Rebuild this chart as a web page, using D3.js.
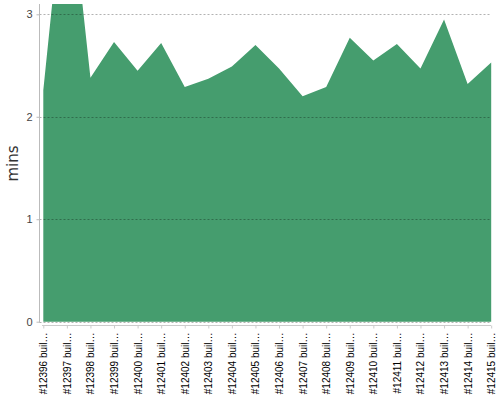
<!DOCTYPE html>
<html>
<head>
<meta charset="utf-8">
<script src="https://cdn.jsdelivr.net/npm/d3@7"></script>
<style>
html,body{margin:0;padding:0;background:#fff;}
svg{display:block;font-family:"DejaVu Sans",sans-serif;}
</style>
</head>
<body>
<svg id="chart" width="500" height="400"></svg>
<script>
const categories = ["#12396 buil…","#12397 buil…","#12398 buil…","#12399 buil…","#12400 buil…","#12401 buil…","#12402 buil…","#12403 buil…","#12404 buil…","#12405 buil…","#12406 buil…","#12407 buil…","#12408 buil…","#12409 buil…","#12410 buil…","#12411 buil…","#12412 buil…","#12413 buil…","#12414 buil…","#12415 buil…"];
const durations = [2.26,4.5,2.38,2.73,2.45,2.72,2.29,2.37,2.49,2.70,2.47,2.20,2.29,2.77,2.55,2.71,2.47,2.95,2.32,2.53];
const yTicks = [0,1,2,3];
const yLabel = "mins";

const svg = d3.select("#chart");
const plotTop = 4, plotBottom = 321.7, plotLeft = 39.5, plotRight = 491;
const x = d3.scalePoint().domain(categories).range([43.3, 491.2]).padding(0);
const y = d3.scaleLinear().domain([0, 3]).range([plotBottom, 14.3]);

svg.append("defs").append("clipPath").attr("id","plot")
  .append("rect").attr("x", plotLeft).attr("y", plotTop).attr("width", 500 - plotLeft).attr("height", plotBottom - plotTop + 1);

const area = d3.area()
  .x((d,i) => x(categories[i]))
  .y0(y(0))
  .y1(d => y(d));

svg.append("path")
  .datum(durations)
  .attr("clip-path","url(#plot)")
  .attr("fill","#459d6e")
  .attr("d", area);

// grid lines
svg.append("g").selectAll("line").data(yTicks).join("line")
  .attr("x1", plotLeft).attr("x2", plotRight)
  .attr("y1", d => Math.round(y(d)) + 0.5).attr("y2", d => Math.round(y(d)) + 0.5)
  .attr("stroke", "#000").attr("stroke-opacity", 0.3)
  .attr("stroke-dasharray", "2,2").attr("stroke-width", 1);

// y axis
const yAxis = svg.append("g").attr("transform", `translate(${plotLeft},0)`)
  .call(d3.axisLeft(y).tickValues(yTicks).tickFormat(d3.format("d")).tickSize(3).tickPadding(4));
yAxis.select(".domain").attr("d", `M0,${plotTop}V${plotBottom + 1}`).attr("stroke", "#bbb");
yAxis.selectAll(".tick line").attr("stroke", "#bbb");
yAxis.selectAll(".tick text").attr("fill", "#444").style("font-size", "11px");

// x axis
const xAxis = svg.append("g").attr("transform", `translate(0,325.5)`)
  .call(d3.axisBottom(x).tickSize(3).tickPadding(0));
xAxis.select(".domain").attr("d", `M42,0H${plotRight}`).attr("stroke", "#ccc");
xAxis.selectAll(".tick line").attr("stroke", "#ccc");
xAxis.selectAll(".tick text")
  .attr("fill", "#000")
  .style("font-size", "10px")
  .attr("text-anchor", "end")
  .attr("dy", "0.35em")
  .attr("transform", "translate(0,7) rotate(-90)")
  .attr("x", 0).attr("y", 0);

// y label
svg.append("text")
  .attr("transform", "translate(18,163.5) rotate(-90)")
  .attr("text-anchor", "middle")
  .attr("fill", "#333")
  .style("font-size", "15px")
  .text(yLabel);
</script>
</body>
</html>
